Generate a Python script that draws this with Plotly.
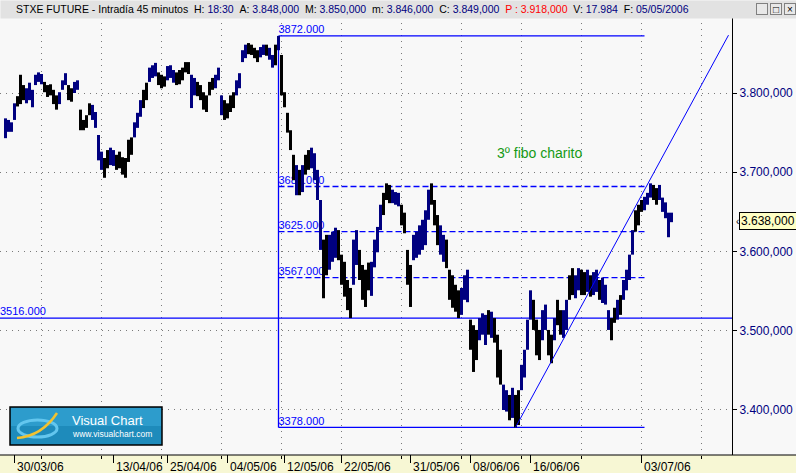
import plotly.graph_objects as go

# ---------------- data ----------------
# Each sample = one group of consecutive 45-minute bars (bar-group index 0..222)
highs = [
    3768, 3766, 3763, 3787, 3796, 3823, 3810, 3806, 3813, 3804,
    3823, 3826, 3824, 3814, 3810, 3811, 3804, 3797, 3801, 3816,
    3825, 3810, 3806, 3814, 3816, 3779, 3766, 3772, 3787, 3785,
    3776, 3747, 3726, 3718, 3728, 3731, 3728, 3722, 3726, 3719,
    3718, 3741, 3744, 3763, 3775, 3791, 3804, 3813, 3832, 3835,
    3838, 3826, 3823, 3821, 3834, 3835, 3829, 3826, 3829, 3832,
    3839, 3839, 3823, 3819, 3814, 3810, 3801, 3797, 3814, 3819,
    3823, 3832, 3797, 3791, 3787, 3797, 3801, 3816, 3825, 3854,
    3861, 3863, 3861, 3857, 3854, 3858, 3861, 3861, 3857, 3848,
    3861, 3872,
    3848, 3801, 3775, 3753, 3722, 3709, 3703, 3709, 3722, 3728,
    3731, 3724, 3703, 3665, 3615, 3621, 3621, 3625, 3630, 3627,
    3596, 3587, 3564, 3554, 3615, 3627, 3602, 3583, 3577, 3586,
    3587, 3615, 3631, 3659, 3674, 3686, 3684, 3678, 3675, 3674,
    3659, 3649, 3602, 3583, 3621, 3625, 3633, 3640, 3652, 3678,
    3686, 3665, 3646, 3633, 3621, 3615, 3577, 3570, 3558, 3551,
    3554, 3570, 3577, 3514, 3507, 3501, 3516, 3522, 3520, 3526,
    3524, 3516, 3495, 3476, 3432, 3425, 3419, 3428, 3419, 3425,
    3457, 3476, 3514, 3551, 3539, 3514, 3501, 3526, 3533, 3501,
    3495, 3516, 3539, 3526, 3526, 3539, 3570, 3579, 3570, 3579,
    3577, 3574, 3577, 3570, 3574, 3577, 3564, 3567, 3558, 3526,
    3516, 3529, 3539, 3545, 3564, 3577, 3596, 3627, 3652, 3659,
    3665, 3669, 3674, 3686, 3684, 3680, 3684, 3668, 3662, 3649,
    3649,
]
lows = [
    3743, 3751, 3751, 3766, 3783, 3786, 3791, 3787, 3791, 3782,
    3810, 3814, 3811, 3801, 3795, 3797, 3786, 3779, 3786, 3804,
    3810, 3791, 3789, 3800, 3804, 3753, 3753, 3756, 3772, 3766,
    3756, 3715, 3703, 3693, 3705, 3709, 3708, 3703, 3705, 3697,
    3693, 3713, 3722, 3744, 3756, 3770, 3781, 3791, 3814, 3819,
    3821, 3810, 3806, 3808, 3816, 3819, 3813, 3810, 3811, 3816,
    3826, 3824, 3781, 3797, 3796, 3791, 3779, 3776, 3797, 3804,
    3806, 3816, 3772, 3766, 3768, 3776, 3781, 3797, 3806, 3839,
    3844, 3849, 3848, 3844, 3839, 3845, 3848, 3847, 3842, 3832,
    3835, 3854,
    3797, 3782, 3750, 3728, 3690, 3671, 3671, 3675, 3697, 3703,
    3705, 3690, 3665, 3602, 3541, 3570, 3577, 3587, 3592, 3589,
    3558, 3543, 3526, 3516, 3558, 3583, 3564, 3539, 3530, 3551,
    3544, 3580, 3599, 3627, 3646, 3665, 3661, 3661, 3659, 3657,
    3633, 3623, 3558, 3530, 3589, 3592, 3596, 3602, 3608, 3640,
    3659, 3633, 3608, 3596, 3587, 3579, 3539, 3529, 3524, 3516,
    3520, 3539, 3536, 3476, 3448, 3463, 3488, 3495, 3482, 3495,
    3491, 3485, 3441, 3432, 3400, 3398, 3387, 3390, 3378, 3381,
    3425, 3441, 3476, 3514, 3501, 3469, 3463, 3488, 3501, 3469,
    3459, 3488, 3507, 3495, 3491, 3501, 3539, 3545, 3541, 3551,
    3545, 3545, 3549, 3543, 3545, 3549, 3539, 3535, 3533, 3501,
    3488, 3510, 3514, 3520, 3539, 3551, 3564, 3596, 3625, 3633,
    3650, 3652, 3659, 3668, 3665, 3659, 3665, 3650, 3642, 3618,
    3637,
]
# u = up bar (blue), d = down bar (black)
direction = (
    "uuuuddduuu" "uuuddddduu" "udduuddddu" "uuudduuddd" "ddduuudduu"
    "uddduuuddd" "dduudddddd" "uuudddduuu" "udddduuduu" "du"
    "dddddududd" "uuuudduuud" "dddduudddd" "uuuuddduuu" "dddduuuuuu"
    "ddduuddddd" "uuuddduuud" "uddduududd" "uuuuddduud" "dudduudduu"
    "dduduuduuu" "dduduuuudd" "duuudduuuu" "u"
)

tick_bars = [3, 36, 54, 74, 93, 112, 135, 155, 175, 212]
tick_dates = ["30/03/06", "13/04/06", "25/04/06", "04/05/06", "12/05/06",
              "22/05/06", "31/05/06", "08/06/06", "16/06/06", "03/07/06"]
grid_bars = [12, 32, 52, 72, 92, 112, 132, 152, 172, 192, 212, 232]
price_ticks = [3400, 3500, 3600, 3700, 3800]
price_labels = ["3.400,000", "3.500,000", "3.600,000", "3.700,000", "3.800,000"]
clipped_tick = 3900
clipped_label = "3.900,000"

fib_levels = [3872, 3682, 3625, 3567, 3378]
fib_labels = ["3872.000", "3682.000", "3625.000", "3567.000", "3378.000"]
fib_dashed = [False, True, True, True, False]
fib_start, fib_end = 91, 213
support_level = 3516
support_label = "3516.000"
trend_bars = [170, 241]
trend_prices = [3378, 3873]
note_text = "3º fibo charito"
note_pos = (178, 3724)
last_price = 3638
last_label = "3.638,000"

x_range = [-1.8333, 242.1667]
y_range = [3343.2, 3895.9]

# ---------------- styling ----------------
FONT = "Liberation Sans"
BLUE = "#0000ff"
NAVY = "#000080"
GRID = "#7a7a7a"
PLOT_W, PLOT_B, PLOT_H = 732, 455, 438


def px_x(px):
    return px / PLOT_W


def px_y(py):
    return (PLOT_B - py) / PLOT_H


fig = go.Figure()

# fibonacci levels
for lvl, dashed in zip(fib_levels, fib_dashed):
    fig.add_trace(go.Scatter(x=[fib_start, fib_end], y=[lvl, lvl], mode="lines",
                             line=dict(color=BLUE, width=1.3, dash="6px,3px" if dashed else "solid"),
                             hoverinfo="skip"))
fig.add_trace(go.Scatter(x=[fib_start, fib_start], y=[min(fib_levels), max(fib_levels)], mode="lines",
                         line=dict(color=BLUE, width=1.3), hoverinfo="skip"))
fig.add_trace(go.Scatter(x=x_range, y=[support_level, support_level], mode="lines",
                         line=dict(color=BLUE, width=1.3), hoverinfo="skip"))
fig.add_trace(go.Scatter(x=[fib_start] * len(fib_levels), y=fib_levels, mode="text",
                         text=fib_labels, textposition="top right",
                         textfont=dict(family=FONT, size=11, color=BLUE), hoverinfo="skip"))
fig.add_trace(go.Scatter(x=[x_range[0]], y=[support_level], mode="text",
                         text=[support_label], textposition="top right",
                         textfont=dict(family=FONT, size=11, color=BLUE), hoverinfo="skip"))

# price bars
seg = {"u": ([], []), "d": ([], [])}
for k, (h, l, d) in enumerate(zip(highs, lows, direction)):
    xs, ys = seg[d]
    xs += [k, k, None]
    ys += [l, h, None]
for key, col in (("d", "#000000"), ("u", NAVY)):
    fig.add_trace(go.Scatter(x=seg[key][0], y=seg[key][1], mode="lines",
                             line=dict(color=col, width=3), hoverinfo="skip"))

# trend line
fig.add_trace(go.Scatter(x=trend_bars, y=trend_prices, mode="lines",
                         line=dict(color=BLUE, width=1), hoverinfo="skip"))

fig.update_layout(
    width=796, height=473,
    margin=dict(l=0, r=64, t=17, b=18),
    plot_bgcolor="#f8f8f8", paper_bgcolor="#f8f8f8",
    showlegend=False,
    font=dict(family=FONT, size=12, color="black"),
)
# x axis carries the dotted vertical grid; date labels are drawn as annotations below
fig.update_xaxes(
    range=x_range, tickmode="array", tickvals=grid_bars, ticktext=[""] * len(grid_bars),
    ticks="outside", ticklen=3, tickcolor="black", tickwidth=1, automargin=False,
    showgrid=True, gridcolor=GRID, griddash="1px,5px", gridwidth=1,
    zeroline=False, showline=False,
)
fig.update_yaxes(
    side="right", range=y_range, tickmode="array", tickvals=price_ticks, ticktext=price_labels,
    ticks="outside", ticklen=4, tickcolor="black", automargin=False,
    tickfont=dict(family=FONT, size=12, color=NAVY),
    showgrid=True, gridcolor=GRID, griddash="1px,5px", gridwidth=1,
    showline=True, linecolor="black", linewidth=1, zeroline=False,
)

shapes = [
    dict(type="rect", xref="paper", yref="paper", x0=0, x1=px_x(796), y0=px_y(473), y1=0,
         fillcolor="#f7f7d4", line=dict(width=0), layer="below"),
    dict(type="line", xref="paper", yref="paper", x0=0, x1=px_x(796), y0=0, y1=0,
         line=dict(color="black", width=1)),
]
for t in tick_bars:
    shapes.append(dict(type="line", xref="x", yref="paper", x0=t, x1=t, y0=0, y1=px_y(463),
                       line=dict(color="black", width=1)))
shapes += [
    dict(type="rect", xref="paper", yref="paper", x0=px_x(10), x1=px_x(162), y0=px_y(445), y1=px_y(407),
         fillcolor="#1e8bbb", line=dict(color="black", width=1.5)),
    dict(type="rect", xref="paper", yref="paper", x0=px_x(11), x1=px_x(161), y0=px_y(426), y1=px_y(408),
         fillcolor="#2d9ccc", line=dict(width=0)),
    dict(type="circle", xref="paper", yref="paper", x0=px_x(18), x1=px_x(57), y0=px_y(437), y1=px_y(420),
         line=dict(color="#63c6ee", width=3)),
    dict(type="path", xref="paper", yref="paper",
         path=f"M {px_x(17)},{px_y(438)} Q {px_x(42)},{px_y(436)} {px_x(57)},{px_y(413)}",
         line=dict(color="#f2c230", width=2.5)),
]
fig.update_layout(shapes=shapes)

title_html = (
    "STXE FUTURE - Intradía 45 minutos&nbsp;&nbsp;H: <span style='color:#000080'>18:30</span>"
    "&nbsp;&nbsp;A: <span style='color:#000080'>3.848,000</span>"
    "&nbsp;&nbsp;M: <span style='color:#000080'>3.850,000</span>"
    "&nbsp;&nbsp;m: <span style='color:#000080'>3.846,000</span>"
    "&nbsp;&nbsp;C: <span style='color:#000080'>3.849,000</span>"
    "&nbsp;&nbsp;<span style='color:#ff0000'>P : 3.918,000</span>"
    "&nbsp;&nbsp;V: <span style='color:#000080'>17.984</span>"
    "&nbsp;&nbsp;F: <span style='color:#000080'>05/05/2006</span>"
)

annotations = [
    dict(xref="paper", yref="y", x=px_x(738), y=clipped_tick, text=clipped_label, showarrow=False,
         xanchor="left", yanchor="middle", font=dict(family=FONT, size=12, color=NAVY)),
    dict(xref="paper", yref="paper", x=0, y=px_y(0), text=" ", showarrow=False,
         xanchor="left", yanchor="top", width=796, height=17, bgcolor="#e2e2e2", borderpad=0),
    dict(xref="paper", yref="paper", x=px_x(14), y=px_y(9), text=title_html, showarrow=False,
         xanchor="left", yanchor="middle", font=dict(family=FONT, size=10.5, color="black")),
]
for t, lab in zip(tick_bars, tick_dates):
    annotations.append(dict(xref="x", yref="paper", x=t, y=px_y(466.5), text=lab, showarrow=False,
                            xanchor="left", yanchor="middle", xshift=0,
                            font=dict(family=FONT, size=12, color="black")))
for cx, sym in ((762, "_"), (776, "□"), (790, "×")):
    annotations.append(dict(xref="paper", yref="paper", x=px_x(cx), y=px_y(9), text=sym, showarrow=False,
                            xanchor="center", yanchor="middle", width=10, height=10,
                            bgcolor="#e8e8e8", bordercolor="#808080", borderwidth=1, borderpad=0,
                            font=dict(family=FONT, size=10, color="black")))
annotations += [
    dict(x=note_pos[0], y=note_pos[1], text=note_text, showarrow=False,
         font=dict(family=FONT, size=14, color="#159a15")),
    dict(xref="paper", yref="y", x=px_x(739), y=last_price, text=last_label, showarrow=False,
         xanchor="left", yanchor="middle", bgcolor="#ffffc4", bordercolor="black", borderwidth=1,
         borderpad=1, font=dict(family=FONT, size=12, color="black")),
    dict(xref="paper", yref="y", x=px_x(734), y=last_price, text="‹", showarrow=False,
         xanchor="left", yanchor="middle", font=dict(family=FONT, size=10, color="black")),
    dict(xref="paper", yref="paper", x=px_x(70), y=px_y(420), text="Visual Chart", showarrow=False,
         xanchor="left", yanchor="middle", font=dict(family=FONT, size=13, color="white")),
    dict(xref="paper", yref="paper", x=px_x(70), y=px_y(434), text="www.visualchart.com", showarrow=False,
         xanchor="left", yanchor="middle", font=dict(family=FONT, size=8.5, color="white")),
]
fig.update_layout(annotations=annotations)

fig.write_html("out.html", config={"displayModeBar": False},
               post_script="document.body.style.margin='0';document.body.style.overflow='hidden';")
